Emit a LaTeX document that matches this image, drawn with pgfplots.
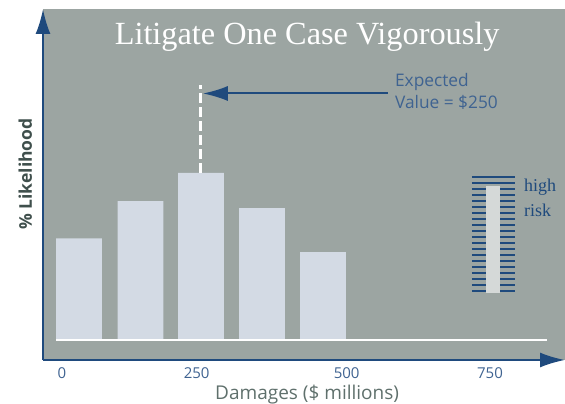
\documentclass[border=0pt]{standalone}
\usepackage{fontspec}
\setmainfont{Open Sans}
\newfontfamily\serifx{Liberation Serif}
\usepackage{pgfplots}
\pgfplotsset{compat=1.18}
\usetikzlibrary{arrows.meta}
\definecolor{panel}{HTML}{9CA5A2}
\definecolor{navy}{HTML}{1F4A7D}
\definecolor{barc}{HTML}{D3DAE4}
\definecolor{riskc}{HTML}{D5D9D8}
\definecolor{tickc}{HTML}{3F6391}
\definecolor{labc}{HTML}{5F706C}
\definecolor{ylabc}{HTML}{3F4F4C}
\begin{document}
\begin{tikzpicture}[x=1pt,y=1pt]
\path[use as bounding box] (0,0) rectangle (565,404);
\begin{axis}[
  at={(43pt,44pt)}, anchor=south west,
  scale only axis, width=522pt, height=351pt,
  xmin=-9, xmax=847, ymin=-3.18, ymax=52.7,
  clip=false,
  axis lines=left,
  axis line style={navy, line width=2.2pt},
  x axis line style={-{Latex[length=25pt,width=15pt]}},
  y axis line style={-{Latex[length=25pt,width=15pt]}},
  axis background/.style={fill=panel},
  xtick={22,243,489,724}, xticklabels={0,250,500,750},
  ytick=\empty,
  major tick length=0pt,
  x tick label style={font=\fontsize{15}{15}\selectfont, text=tickc, yshift=-4pt},
  /pgf/number format/assume math mode=true,
  title={Litigate One Case Vigorously},
  every axis title shift=0pt,
  title style={at={(axis description cs:.506,.92)}, anchor=center, text=white, font=\serifx\fontsize{32.3}{32.3}\selectfont},
  xlabel={Damages (\$ millions)},
  xlabel style={at={(axis description cs:.506,-.094)}, anchor=center, yshift=-2pt, text=labc, font=\fontsize{19}{19}\selectfont},
  ylabel={\% Likelihood},
  ylabel style={at={(axis description cs:-.034,.53)}, anchor=center, text=ylabc, font=\bfseries\fontsize{17.5}{17.5}\selectfont},
]
\addplot[ybar, bar width=75, bar shift=0pt, fill=barc, draw=none] coordinates {(50,16.2)(151,22.1)(250,26.6)(350,21.0)(450,14.0)};
\addplot[white, line width=2pt] coordinates {(12.3,0)(817,0)};
\addplot[white, line width=3pt, dash pattern=on 10pt off 4pt] coordinates {(250,26.6)(250,40.6)};
\addplot[navy, line width=2pt, -{Latex[length=25pt,width=15pt]}] coordinates {(556.6,39.25)(253,39.25)};
\pgfplotsinvokeforeach{26.00,25.05,24.09,23.14,22.18,21.23,20.27,19.32,18.36,17.41,16.45,15.50,14.54,13.59,12.63,11.68,10.72,9.76,8.81,7.85}{
  \addplot[navy, line width=2pt] coordinates {(694.3,#1)(764.8,#1)};
}
\addplot[fill=riskc, draw=none] coordinates {(717.2,7.53)(740.2,7.53)(740.2,24.5)(717.2,24.5)} -- cycle;
\node[anchor=west, text=tickc, align=left, font=\fontsize{17.3}{22}\selectfont, inner sep=0pt] at (axis cs:568,39.5) {Expected\\Value = \$250};
\node[anchor=west, text=navy, align=left, font=\serifx\fontsize{18}{25}\selectfont, inner sep=0pt] at (axis cs:779.5,22.6) {high\\risk};
\end{axis}
\end{tikzpicture}
\end{document}
